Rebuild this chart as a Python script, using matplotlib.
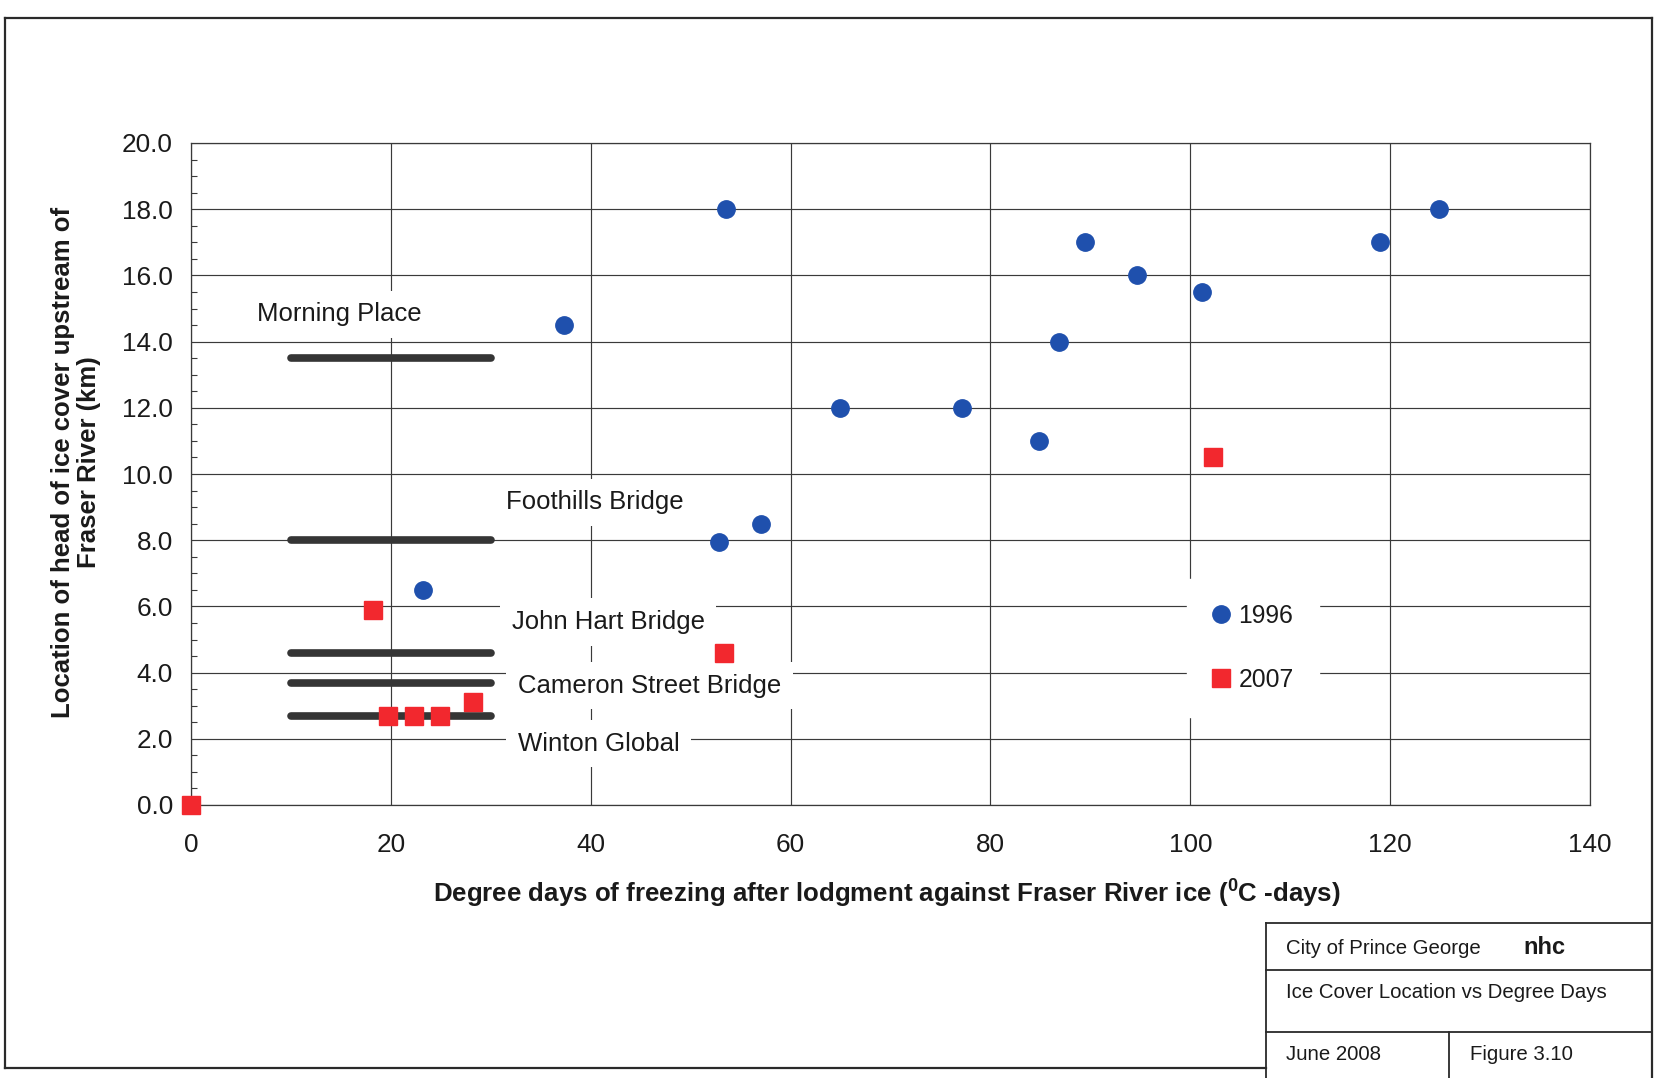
import matplotlib
matplotlib.use("Agg")
import matplotlib.pyplot as plt
from matplotlib import font_manager
from matplotlib.lines import Line2D
from matplotlib.ticker import MultipleLocator, FormatStrFormatter

# ---- data -------------------------------------------------------------
# 1996 season: degree days of freezing vs. head of ice cover (km upstream)
dd_1996 = [23.2, 37.3, 53.5, 52.8, 57.0, 64.9, 77.2, 84.9, 86.9, 89.5,
           94.7, 101.2, 119.0, 124.9]
km_1996 = [6.5, 14.5, 18.0, 7.95, 8.5, 12.0, 12.0, 11.0, 14.0, 17.0,
           16.0, 15.5, 17.0, 18.0]

# 2007 season
dd_2007 = [0.0, 18.2, 19.7, 22.3, 24.9, 28.2, 53.3, 102.3]
km_2007 = [0.0, 5.9, 2.7, 2.7, 2.7, 3.1, 4.6, 10.5]

# river landmarks (km upstream of Fraser River)
landmarks = ["Morning Place", "Foothills Bridge", "John Hart Bridge",
             "Cameron Street Bridge", "Winton Global"]
landmark_km = [13.5, 8.0, 4.6, 3.7, 2.7]
landmark_dd_start = 10
landmark_dd_end = 30

series_labels = ["1996", "2007"]
x_ticks = [0, 20, 40, 60, 80, 100, 120, 140]

# ---- fonts ------------------------------------------------------------
installed = {f.name for f in font_manager.fontManager.ttflist}
SANS = "Liberation Sans" if "Liberation Sans" in installed else "DejaVu Sans"
NARROW = "Liberation Sans Narrow" if "Liberation Sans Narrow" in installed else None

plt.rcParams["font.family"] = [SANS, "DejaVu Sans"]
plt.rcParams["mathtext.fontset"] = "custom"
plt.rcParams["mathtext.rm"] = SANS
plt.rcParams["mathtext.bf"] = SANS + ":bold"

W, H = 1658, 1078
fig = plt.figure(figsize=(W / 100, H / 100), dpi=100)
fig.patch.set_facecolor("white")


def fx(px):
    return px / W


def fy(py):
    return 1 - py / H


# ---- main axes ----------------------------------------------------------
ax = fig.add_axes([fx(191), fy(805), fx(1590) - fx(191), fy(143) - fy(805)])
ax.set_xlim(0, 140)
ax.set_ylim(0, 20)

GRID = "#3a3a3a"
ax.set_axisbelow(True)
ax.yaxis.set_major_locator(MultipleLocator(2))
ax.yaxis.set_minor_locator(MultipleLocator(0.5))
ax.yaxis.set_major_formatter(FormatStrFormatter("%.1f"))
ax.set_xticks(x_ticks)
ax.grid(True, which="major", color=GRID, linewidth=0.85)
for s in ax.spines.values():
    s.set_color(GRID)
    s.set_linewidth(0.9)

ax.tick_params(axis="x", length=0, pad=20, labelsize=18.8, colors="#1a1a1a")
ax.tick_params(axis="y", which="major", length=0, pad=13, labelsize=18.8,
               colors="#1a1a1a")
ax.tick_params(axis="y", which="minor", direction="in", length=4.5,
               width=0.8, color=GRID)

# landmark reaches
for km in landmark_km:
    ax.plot([landmark_dd_start, landmark_dd_end], [km, km], color="#353535",
            linewidth=5.5, solid_capstyle="round", zorder=2)

# landmark names, each on a white box that masks the grid behind it
label_pos = [(6.6, 14.83), (31.5, 9.15), (32.1, 5.53), (32.7, 3.6), (32.7, 1.85)]
for name, (lx, ly) in zip(landmarks, label_pos):
    ax.text(lx, ly, name, fontsize=18.5, color="#1a1a1a", ha="left",
            va="center", zorder=3,
            bbox=dict(boxstyle="square,pad=0.45", fc="white", ec="none"))

# observations
ax.plot(dd_1996, km_1996, linestyle="none", marker="o", markersize=12.5,
        markerfacecolor="#1f50ad", markeredgecolor="#1f50ad",
        label=series_labels[0], zorder=4, clip_on=False)
ax.plot(dd_2007, km_2007, linestyle="none", marker="s", markersize=12.8,
        markerfacecolor="#f2282e", markeredgecolor="#f2282e",
        label=series_labels[1], zorder=4, clip_on=False)

leg = ax.legend(loc="center", bbox_to_anchor=(0.7588, 0.2372),
                frameon=True, fancybox=False, facecolor="white",
                edgecolor="white", framealpha=1, fontsize=17.8,
                handlelength=0.8, handletextpad=0.3, labelspacing=1.62,
                borderpad=1.0)
leg.set_zorder(5)
for t in leg.get_texts():
    t.set_color("#1a1a1a")

# ---- axis titles ------------------------------------------------------
fig.text(fx(76), fy(462), "Location of head of ice cover upstream of\nFraser River (km)",
         rotation=90, ha="center", va="center", multialignment="center",
         fontsize=18.5, fontweight="bold", color="#1a1a1a", linespacing=1.15)
fig.text(fx(887), fy(893), r"Degree days of freezing after lodgment against Fraser River ice ($^{\mathbf{0}}$C -days)",
         ha="center", va="center", fontsize=18.6, fontweight="bold",
         color="#1a1a1a")

# ---- page frame and title block -------------------------------------
frame_kw = dict(transform=fig.transFigure, color="#2a2a2a", linewidth=1.6)
fig.add_artist(Line2D([fx(5), fx(1652)], [fy(18), fy(18)], **frame_kw))
fig.add_artist(Line2D([fx(5), fx(5)], [fy(18), fy(1068)], **frame_kw))
fig.add_artist(Line2D([fx(5), fx(1266)], [fy(1068), fy(1068)], **frame_kw))
fig.add_artist(Line2D([fx(1652), fx(1652)], [fy(18), fy(1078)], **frame_kw))

blk_kw = dict(transform=fig.transFigure, color="#2a2a2a", linewidth=1.3)
fig.add_artist(Line2D([fx(1266), fx(1652)], [fy(923), fy(923)], **blk_kw))
fig.add_artist(Line2D([fx(1266), fx(1652)], [fy(970), fy(970)], **blk_kw))
fig.add_artist(Line2D([fx(1266), fx(1652)], [fy(1032), fy(1032)], **blk_kw))
fig.add_artist(Line2D([fx(1266), fx(1266)], [fy(923), fy(1078)], **blk_kw))
fig.add_artist(Line2D([fx(1449), fx(1449)], [fy(1032), fy(1078)], **blk_kw))

if NARROW:
    blk_font = dict(family=[NARROW, SANS], fontsize=17.5)
else:
    blk_font = dict(family=[SANS], fontsize=14.7)
fig.text(fx(1286), fy(949), "City of Prince George", ha="left", va="center",
         color="#1a1a1a", **blk_font)
fig.text(fx(1523), fy(947), "nhc", ha="left", va="center", fontsize=17,
         fontweight="bold", color="#1a1a1a")
fig.text(fx(1286), fy(992), "Ice Cover Location vs Degree Days", ha="left",
         va="center", color="#1a1a1a", **blk_font)
fig.text(fx(1286), fy(1054), "June 2008", ha="left", va="center",
         color="#1a1a1a", **blk_font)
fig.text(fx(1470), fy(1055), "Figure 3.10", ha="left", va="center",
         color="#1a1a1a", **blk_font)

fig.savefig("out.png", dpi=100, facecolor="white")
